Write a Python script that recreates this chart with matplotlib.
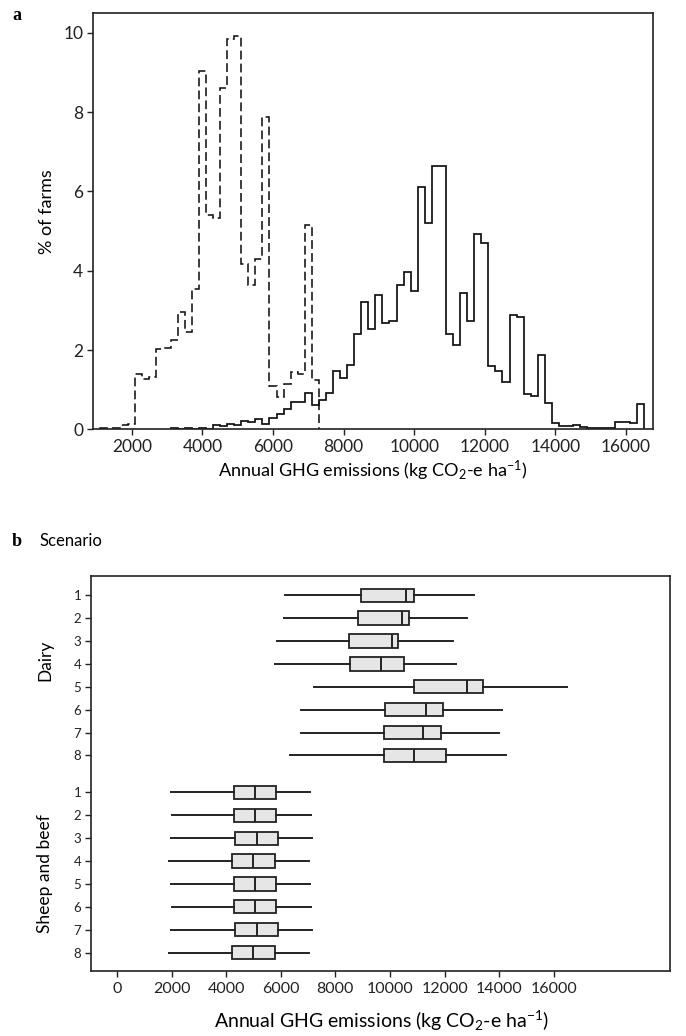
import numpy as np
import matplotlib
matplotlib.use("Agg")
import matplotlib.pyplot as plt

plt.rcParams['font.family'] = ['Lato', 'DejaVu Sans']
plt.rcParams['mathtext.fontset'] = 'custom'
plt.rcParams['mathtext.rm'] = 'Lato'
plt.rcParams['mathtext.it'] = 'Lato:italic'
plt.rcParams['mathtext.bf'] = 'Lato:bold'

# ---------------- data: panel a (histograms, % of farms per 200 kg bin) ----
sheep_bin_start = 1100
sheep_pct = [0.03, 0.03, 0.03, 0.10, 0.14, 1.40, 1.28, 1.32, 2.03, 2.06,
             2.25, 2.95, 2.46, 3.53, 9.03, 5.40, 5.33, 8.60, 9.85, 9.92,
             4.17, 3.65, 4.30, 7.87, 1.08, 0.82, 1.15, 1.45, 1.40, 5.16,
             1.24]
dairy_bin_start = 3100
dairy_pct = [0.03, 0.0, 0.03, 0.0, 0.03, 0.0, 0.11, 0.08, 0.13, 0.11,
             0.22, 0.19, 0.25, 0.14, 0.28, 0.39, 0.52, 0.70, 0.70, 0.92,
             0.61, 0.74, 0.92, 1.46, 1.29, 1.62, 2.41, 3.22, 2.52, 3.39,
             2.69, 2.72, 3.64, 3.98, 3.50, 6.12, 5.20, 6.64, 6.64, 2.41,
             2.13, 3.43, 2.74, 4.92, 4.69, 1.60, 1.48, 1.20, 2.88, 2.84,
             0.89, 0.84, 1.88, 0.67, 0.15, 0.08, 0.08, 0.11, 0.07, 0.03,
             0.04, 0.03, 0.03, 0.19, 0.19, 0.15, 0.63]
bin_width = 200
a_xticks = [2000, 4000, 6000, 8000, 10000, 12000, 14000, 16000]
a_yticks = [0, 2, 4, 6, 8, 10]

# ---------------- data: panel b (box plots by scenario) -------------------
scenarios = ['1', '2', '3', '4', '5', '6', '7', '8']
groups = ['Dairy', 'Sheep and beef']
dairy_whislo = [6160, 6100, 5870, 5770, 7210, 6740, 6740, 6340]
dairy_q1 = [8920, 8830, 8500, 8550, 10880, 9810, 9760, 9760]
dairy_med = [10570, 10450, 10060, 9660, 12820, 11320, 11220, 10880]
dairy_q3 = [10880, 10690, 10300, 10500, 13410, 11950, 11860, 12050]
dairy_whishi = [13080, 12800, 12310, 12410, 16490, 14110, 14000, 14250]

sheep_whislo = [1970, 2020, 1970, 1920, 1970, 2020, 1970, 1920]
sheep_q1 = [4270, 4270, 4320, 4230, 4270, 4270, 4320, 4230]
sheep_med = [5050, 5050, 5110, 4980, 5050, 5050, 5110, 4980]
sheep_q3 = [5830, 5830, 5880, 5790, 5830, 5830, 5880, 5790]
sheep_whishi = [7070, 7100, 7150, 7020, 7070, 7100, 7150, 7020]
b_xticks = [0, 2000, 4000, 6000, 8000, 10000, 12000, 14000, 16000]

xlabel = r'Annual GHG emissions (kg CO$_{\mathregular{2}}$-e ha$^{\mathregular{-1}}$)'

W, H = 686, 1036
fig = plt.figure(figsize=(W / 100, H / 100), dpi=100)


def fx(px):
    return px / W


def fy(py):
    return 1 - py / H


edge_col = '#222222'

# ---------------- panel a ----------------
axa = fig.add_axes([fx(93), fy(429.3), fx(652.7) - fx(93), fy(13) - fy(429.3)])
sheep_edges = sheep_bin_start + bin_width * np.arange(len(sheep_pct) + 1)
dairy_edges = dairy_bin_start + bin_width * np.arange(len(dairy_pct) + 1)
axa.stairs(sheep_pct, sheep_edges, baseline=0, color='#111111', lw=1.15,
           linestyle=(0, (5.5, 2.6)))
axa.stairs(dairy_pct, dairy_edges, baseline=0, color='#111111', lw=1.25)
axa.set_xlim(903, 16754)
axa.set_ylim(0, 10.5)
axa.set_xticks(a_xticks)
axa.set_yticks(a_yticks)
axa.tick_params(direction='out', length=4, width=1, labelsize=12.5,
                colors='#222222', pad=3)
for s in axa.spines.values():
    s.set_linewidth(1.2)
    s.set_color(edge_col)

fig.text(fx(12), fy(16), 'a', family='Liberation Serif', weight='bold',
         fontsize=13, ha='left', va='center')
fig.text(fx(46.7), fy(212), '% of farms', rotation=90, ha='center',
         va='center', fontsize=13)
fig.text(fx(373), fy(471), xlabel, ha='center', va='center', fontsize=13)

# ---------------- panel b ----------------
axb = fig.add_axes([fx(91), fy(970.7), fx(670) - fx(91), fy(576) - fy(970.7)])
gap = 1.615
pos_d = np.arange(len(scenarios), dtype=float)
pos_s = pos_d[-1] + gap + np.arange(len(scenarios), dtype=float)


def make_stats(lo, q1, med, q3, hi):
    return [dict(whislo=a, q1=b, med=c, q3=d, whishi=e, fliers=[])
            for a, b, c, d, e in zip(lo, q1, med, q3, hi)]


stats_d = make_stats(dairy_whislo, dairy_q1, dairy_med, dairy_q3, dairy_whishi)
stats_s = make_stats(sheep_whislo, sheep_q1, sheep_med, sheep_q3, sheep_whishi)
common = dict(orientation='horizontal', widths=0.58, showcaps=False,
              showfliers=False, patch_artist=True,
              boxprops=dict(facecolor='#e6e6e6', edgecolor=edge_col, lw=1.3),
              whiskerprops=dict(color=edge_col, lw=1.4),
              medianprops=dict(color=edge_col, lw=1.4))
axb.bxp(stats_d, positions=pos_d, **common)
axb.bxp(stats_s, positions=pos_s, **common)
axb.set_ylim(pos_s[-1] + 0.79, -0.84)
axb.set_yticks(np.concatenate([pos_d, pos_s]))
axb.set_yticklabels(scenarios + scenarios)
axb.set_xlim(-950, 20250)
axb.set_xticks(b_xticks)
axb.set_xticklabels([str(v) for v in b_xticks])
axb.tick_params(axis='x', direction='out', length=4, width=1, labelsize=11.5,
                colors='#222222', pad=4)
axb.tick_params(axis='y', direction='out', length=4, width=1, labelsize=9.5,
                colors='#222222', pad=3)
for s in axb.spines.values():
    s.set_linewidth(1.2)
    s.set_color(edge_col)

fig.text(fx(12), fy(541), 'b', family='Liberation Serif', weight='bold',
         fontsize=13, ha='left', va='center')
fig.text(fx(40), fy(541), 'Scenario', ha='left', va='center', fontsize=12)
fig.text(fx(45), fy(660), groups[0], rotation=90, ha='center', va='center',
         fontsize=12.5)
fig.text(fx(45), fy(874), groups[1], rotation=90, ha='center', va='center',
         fontsize=12.5)
fig.text(fx(381), fy(1021), xlabel, ha='center', va='center', fontsize=14)

fig.savefig('out.png', dpi=100)
